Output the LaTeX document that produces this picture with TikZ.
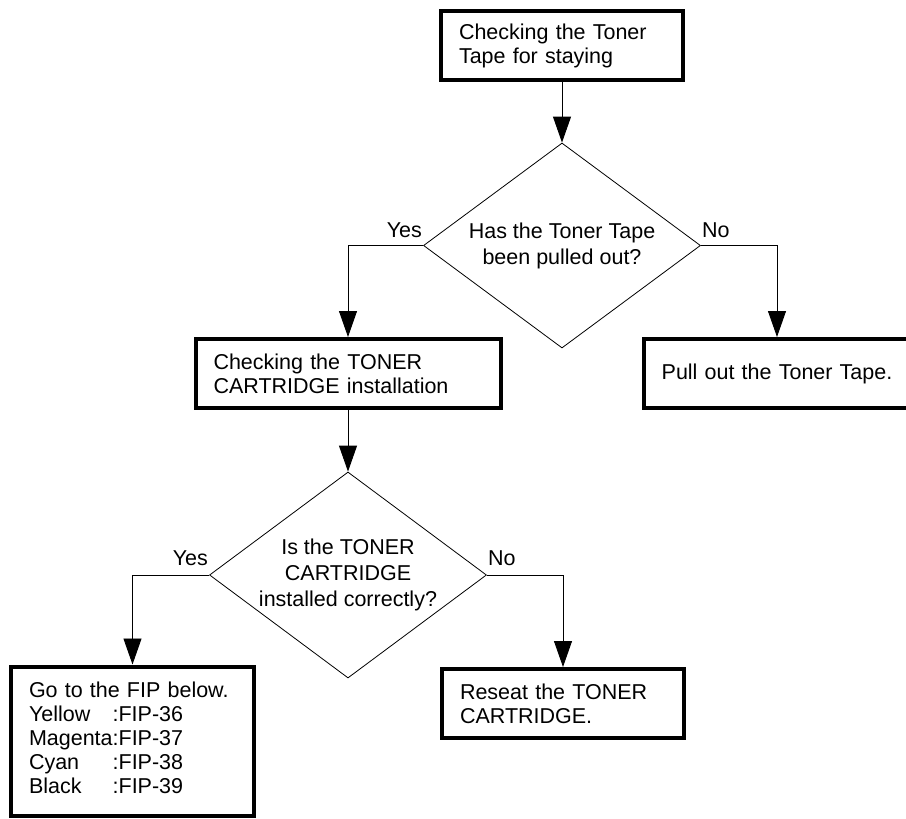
\documentclass[tikz,border=0pt]{standalone}
\usepackage{fontspec}
\setmainfont{Liberation Sans}
\usepackage{tikz}
\usetikzlibrary{arrows.meta,positioning,shapes.geometric}

\begin{document}
\begin{tikzpicture}[
  x=1pt, y=1pt,
  stepbox/.style={draw, line width=4pt, align=left, inner xsep=18pt, inner ysep=6pt, minimum height=69pt, font={\fontsize{21.5}{24}\selectfont}},
  decision/.style={draw, diamond, line width=0.8pt, align=center, inner sep=0pt, aspect=1.35, minimum width=277pt, minimum height=205pt, font={\fontsize{21.5}{26}\selectfont}},
  answer/.style={inner sep=0pt, font={\fontsize{21.5}{24}\selectfont}},
  arrow/.style={-{Triangle[length=26pt, width=18pt]}, line width=0.9pt}
]
\useasboundingbox (0,0) rectangle (906,-819);
\node[stepbox, text width=206pt] (tape) at (562,-45.5) {Checking the Toner\\Tape for staying};
\node[decision] (pulled) at (562,-245.5) {Has the Toner Tape\\been pulled out?};
\node[stepbox, text width=269pt] (check) at (348,-373.5) {Checking the TONER\\CARTRIDGE installation};
\node[stepbox, text width=234pt, inner xsep=16pt, align=center] (pull) at (777,-373.5) {Pull out the Toner Tape.};
\node[decision, minimum height=206pt] (seated) at (348,-575) {Is the TONER\\CARTRIDGE\\installed correctly?};
\node[stepbox, text width=207pt, minimum height=149pt] (fip) at (132.5,-741) {%
  \begin{tabular}{@{}l@{}l@{}}
    \multicolumn{2}{@{}l@{}}{Go to the FIP below.}\\
    Yellow  & :FIP-36\\
    Magenta & :FIP-37\\
    Cyan    & :FIP-38\\
    Black   & :FIP-39
  \end{tabular}};
\node[stepbox, text width=206pt] (reseat) at (563,-703.5) {Reseat the TONER\\CARTRIDGE.};
% answers
\node[answer, above left=8pt and 1pt of pulled.west] (yes1) {Yes};
\node[answer, above right=8pt and 1pt of pulled.east] (no1) {No};
\node[answer, above left=9pt and 1pt of seated.west] (yes2) {Yes};
\node[answer, above right=9pt and 1pt of seated.east] (no2) {No};
% flow
\draw[arrow] (tape.south) -- (pulled.north);
\draw[arrow] (pulled.west) -| (check.north);
\draw[arrow] (pulled.east) -| (pull.north);
\draw[arrow] (check.south) -- (seated.north);
\draw[arrow] (seated.west) -| (fip.north);
\draw[arrow] (seated.east) -| (reseat.north);
\end{tikzpicture}
\end{document}
